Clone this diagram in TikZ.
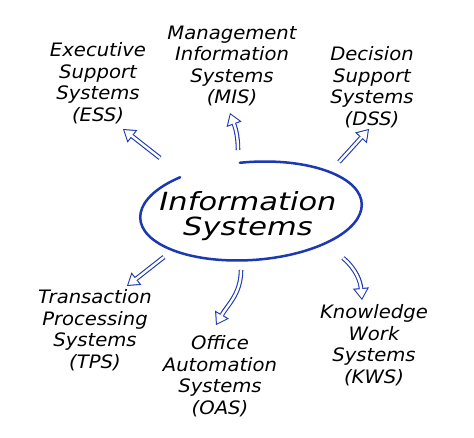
\documentclass[tikz,border=0pt]{standalone}
\usepackage{fontspec}
\setmainfont{DejaVu Sans}
\newfontfamily\lblfont[FakeStretch=1.06]{DejaVu Sans}
\newfontfamily\bigfont[FakeStretch=1.22]{DejaVu Sans}
\usetikzlibrary{arrows.meta}
\definecolor{penblue}{RGB}{28,56,178}
\tikzset{
  lbl/.style={align=center, font=\lblfont\fontsize{18.5}{21.5}\selectfont\itshape, inner sep=0pt},
  mainlbl/.style={align=center, font=\bigfont\fontsize{25}{25}\selectfont\itshape, inner sep=0pt},
  arrowout/.style={draw=penblue, line width=4.6pt,
    -{Triangle[length=12pt,width=16pt,line width=0pt]}},
  arrowin/.style={draw=white, line width=2.4pt, shorten >=1.8pt,
    -{Triangle[length=9.1pt,width=12pt,line width=0pt]}},
  ring/.style={draw=penblue, line width=2.5pt, line cap=round}
}
\begin{document}
\begin{tikzpicture}[x=1pt,y=1pt]
\useasboundingbox (0,0) rectangle (474,437);
\fill[white] (0,0) rectangle (474,437);
% central
\node[mainlbl] (is) at (248,221) {Information\\Systems};
\draw[ring, rotate around={4:(251,226)}] (251,226) ++(128:111 and 49)
  arc[start angle=128, end angle=454, x radius=111, y radius=49];
% labels
\node[lbl] (ess) at (98,354) {Executive\\Support\\Systems\\(ESS)};
\node[lbl] (mis) at (232,371) {Management\\Information\\Systems\\(MIS)};
\node[lbl] (dss) at (372,350) {Decision\\Support\\Systems\\(DSS)};
\node[lbl] (tps) at (95,107) {Transaction\\Processing\\Systems\\(TPS)};
\node[lbl] (oas) at (220,61) {Office\\Automation\\Systems\\(OAS)};
\node[lbl] (kws) at (374,92) {Knowledge\\Work\\Systems\\(KWS)};
% arrow ends
\coordinate (essA) at (160,279); \coordinate (essB) at (123,308);
\coordinate (misA) at (238,287); \coordinate (misB) at (230,324);
\coordinate (dssA) at (339,275); \coordinate (dssB) at (369,308);
\coordinate (tpsA) at (164,180); \coordinate (tpsB) at (127,151);
\coordinate (oasA) at (241,167); \coordinate (oasB) at (216,112);
\coordinate (kwsA) at (343,179); \coordinate (kwsB) at (362,137);
\foreach \s in {arrowout,arrowin}{
  \draw[\s] (essA) -- (essB);
  \draw[\s] (misA) to[out=90,in=-70] (misB);
  \draw[\s] (dssA) -- (dssB);
  \draw[\s] (tpsA) -- (tpsB);
  \draw[\s] (oasA) to[out=-90,in=60] (oasB);
  \draw[\s] (kwsA) to[out=-40,in=95] (kwsB);
}
\end{tikzpicture}
\end{document}
